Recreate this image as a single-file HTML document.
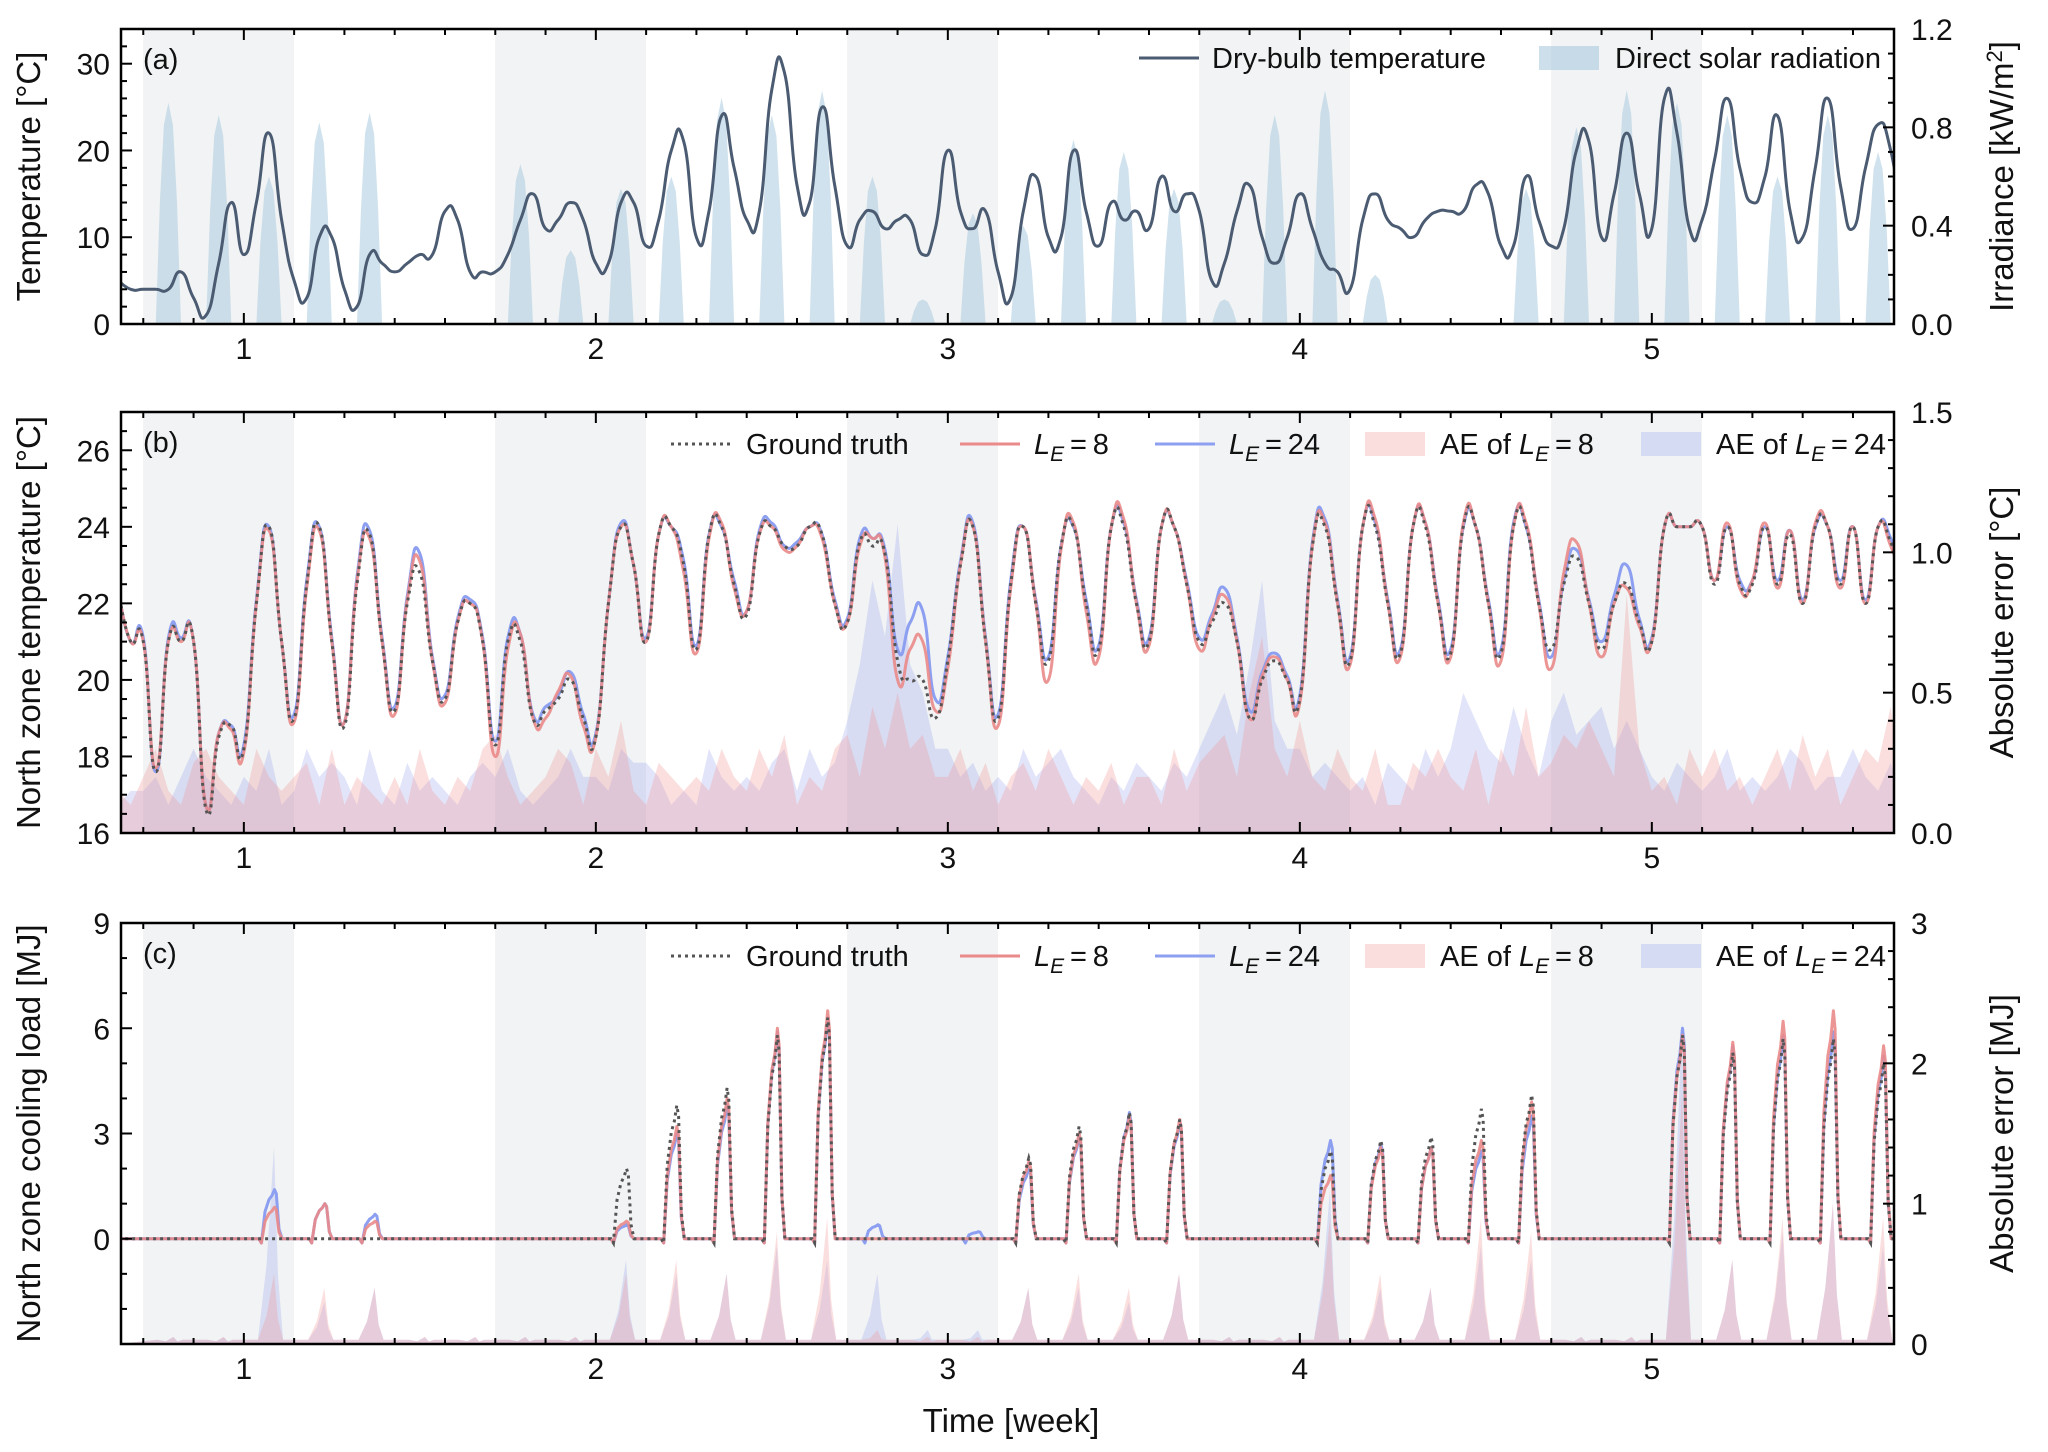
<!DOCTYPE html>
<html><head><meta charset="utf-8">
<style>
html,body{margin:0;padding:0;background:#fff;}
svg{display:block;font-family:"Liberation Sans",sans-serif;}
</style></head>
<body>
<svg id="chart" width="2048" height="1452" viewBox="0 0 2048 1452" xmlns="http://www.w3.org/2000/svg"></svg>
<script>
// ---------- DATA ----------
// 6-hourly samples starting at day 4.5 (weeks = day/7)
const sampleStartDay = 4.5;
const sampleStepDay = 0.25;
const weekendStarts = [0.714, 1.714, 2.714, 3.714, 4.714];
const xTickLabels = ["1","2","3","4","5"];
// Panel (a)
const dryBulbTemp = [5,4,
4,4,4,6, 3,1,7,14, 8,14,22,12, 5,3,10,10, 4,2,8,7, 6,7,8,8, 13,12,6,6, 6,8,12,15, 11,12,14,12, 7,7,14,14,
9,12,20,21, 10,13,24,18, 12,13,27,29, 16,14,25,16, 9,12,13,11, 12,12,8,11, 20,13,11,13, 6,3,13,17,
10,10,20,13, 9,14,12,13, 11,17,13,15, 13,5,7,13, 16,10,7,10, 15,11,7,6, 4,12,15,12, 11,10,12,13,
13,13,16,15, 9,9,17,12, 9,11,20,21, 10,15,22,15, 11,26,22,11, 12,19,26,18, 14,17,24,13, 10,18,26,16,
11,18,23,20, 11];
const radDays = [4,5,6,7,8,9,10,11,12,13,14,15,16,17,18,19,20,21,22,23,24,25,26,27,28,29,30,31,32,33,34,35,36,37,38,39];
const radPeak = [0,0.9,0.85,0.6,0.82,0.86,0,0,0.65,0.3,0.55,0.6,0.92,0.85,0.95,0.6,0.1,0.45,0.4,0.75,0.7,0.55,0.1,0.85,0.95,0.2,0,0,0.55,0.8,0.95,0.9,0.85,0.6,0.85,0.7];
// Panel (b)
const gtZoneTemp = [22.3,21,
21,17.6,21,21, 21,16.6,18.5,18.8, 18.2,22,24,21, 19,22.5,24,21, 18.8,22.5,23.8,21, 19.2,22,22.8,20.5, 19.5,21.5,22,21, 18.3,21,21,19, 19.2,19.5,20,19,
18.5,22,24,23, 21,23.8,24,23, 20.8,23.8,24,22.5, 21.7,23.8,24,23.5, 23.5,24,23.8,22, 21.5,23.6,23.5,23.3, 20.5,20,20,19, 20.5,23,24,21,
19,22.5,24,22, 20.5,23.5,24,22, 20.8,24,24,22, 21,24,24,22.5, 21,21.5,22,21, 19,20,20.5,20, 19.5,23.5,24,22, 20.5,24,24,22,
20.7,24,24,22, 20.7,24,24,22, 20.7,24,24,22, 20.8,22.5,23.2,22, 20.8,22,22.5,21.5, 21,24,24,24, 24,22.5,24,22.5, 22.5,24,22.5,23.8,
22,24,24,22.5, 24,22,24,23.6, 22.5];
const predTempL8 = [22.3,21,
21,17.7,21,21, 21,16.7,18.6,18.7, 18.1,22,23.9,21, 18.9,22.4,23.9,21, 18.9,22.6,23.7,21, 19.1,22.1,23.1,20.5, 19.4,21.5,22,21, 18,20.8,21.2,19, 19,19.7,20.1,18.8,
18.5,22,24,23, 21,23.8,24,22.8, 20.7,23.7,24.1,22.4, 21.8,23.8,24,23.4, 23.5,24,23.7,22, 21.5,23.5,23.7,23.2, 20,20.8,21,19.2, 20.3,23,24,21,
18.8,22.4,24,22, 20,23.4,24.1,21.8, 20.6,24,24.2,22, 20.9,24,24,22.5, 20.8,21.6,22.2,21, 19,20.1,20.6,20, 19.4,23.5,24.1,22, 20.4,24,24.2,22,
20.6,24,24.1,22, 20.6,24.1,24,22, 20.5,24,24.1,22, 20.3,22.8,23.6,22, 20.6,22,22.4,21.4, 21,24,24,24, 24,22.6,24.1,22.4, 22.6,24.1,22.4,23.9,
22,24.1,24,22.4, 24,22,24,23.5, 22.5];
const predTempL24 = [22.3,21,
21.1,17.6,21.1,21.1, 21,16.7,18.6,18.8, 18.3,22.1,24,21, 19.1,22.6,24,21.1, 18.9,22.7,23.9,21.1, 19.3,22.2,23.3,20.6, 19.6,21.6,22.1,21.1, 18.4,21.1,21.2,19.1, 19.3,19.6,20.2,19.1,
18.6,22,24.1,23, 21.1,23.8,24,23.1, 20.9,23.8,24,22.6, 21.8,23.9,24.1,23.5, 23.6,24,23.8,22.1, 21.6,23.7,23.7,23.4, 20.8,21.5,21.8,19.5, 20.6,23.1,24.1,21.1,
19.1,22.6,24,22.1, 20.6,23.5,24,22.1, 20.9,24,24.1,22.1, 21.1,24,24,22.6, 21.1,21.7,22.4,21.1, 19.2,20.2,20.7,20.1, 19.6,23.6,24.2,22.1, 20.6,24,24.1,22.1,
20.8,24,24.1,22.1, 20.8,24,24,22.1, 20.8,24.1,24,22.1, 20.6,22.6,23.4,22.1, 21,22.2,23,21.6, 21.1,24,24,24, 24,22.6,24,22.6, 22.6,24,22.6,23.9,
22.1,24,24,22.6, 24,22.1,24,23.7, 22.5];
const aeTempL8 = [.15,.1,
.2,.3,.15,.1, .25,.3,.2,.15, .1,.3,.2,.15, .2,.25,.1,.3, .1,.2,.15,.1, .2,.1,.3,.15, .1,.2,.15,.3, .35,.2,.1,.15, .2,.3,.25,.1,
.3,.2,.4,.15, .1,.25,.2,.15, .2,.15,.3,.2, .15,.3,.2,.35, .1,.2,.15,.3, .35,.2,.45,.3, .5,.3,.35,.2, .2,.3,.15,.25,
.1,.2,.25,.15, .3,.2,.1,.2, .15,.25,.1,.2, .2,.1,.3,.15, .25,.3,.35,.2, .5,.7,.3,.2, .4,.2,.15,.3, .2,.15,.3,.1,
.1,.25,.2,.3, .2,.15,.3,.1, .3,.2,.45,.2, .25,.35,.3,.4, .3,.2,.85,.3, .15,.2,.1,.3, .2,.3,.15,.2, .1,.2,.3,.15,
.35,.2,.3,.1, .2,.3,.25,.45, .1];
const aeTempL24 = [.1,.15,
.15,.2,.1,.2, .3,.2,.15,.1, .2,.15,.3,.1, .15,.3,.2,.25, .2,.1,.3,.15, .1,.25,.15,.2, .15,.1,.2,.25, .2,.3,.15,.1, .15,.2,.3,.2,
.2,.15,.3,.25, .25,.2,.1,.15, .1,.3,.2,.15, .2,.15,.25,.3, .15,.3,.2,.25, .4,.6,.9,.7, 1.1,.6,.5,.3, .3,.2,.25,.15,
.2,.15,.3,.2, .25,.3,.2,.15, .1,.2,.15,.25, .2,.15,.25,.2, .3,.4,.5,.35, .6,.9,.4,.3, .3,.2,.25,.2, .15,.2,.1,.25,
.2,.15,.3,.2, .3,.5,.4,.3, .25,.45,.3,.2, .4,.5,.35,.4, .45,.3,.4,.3, .2,.15,.25,.2, .15,.2,.3,.15, .2,.15,.2,.3,
.25,.15,.2,.2, .3,.2,.15,.25, .1];
// Panel (c): daily peak cooling load (days 5..39)
const loadDays = [5,6,7,8,9,10,11,12,13,14,15,16,17,18,19,20,21,22,23,24,25,26,27,28,29,30,31,32,33,34,35,36,37,38,39];
const gtLoadPeak   = [0,0,0,0,0,0,0,0,0,2.0,3.8,4.3,5.8,6.3,0,0,0,2.3,3.2,3.6,3.4,0,0,2.5,2.8,2.9,3.7,4.1,0,0,5.8,5.3,5.7,5.7,5.0];
const l8LoadPeak   = [0,0,0.9,1.0,0.5,0,0,0,0,0.5,3.2,4.0,6.0,6.5,0,0,0,2.2,3.0,3.5,3.4,0,0,1.8,2.6,2.6,2.8,3.9,0,0,5.8,5.6,6.2,6.5,5.5];
const l24LoadPeak  = [0,0,1.4,1.0,0.7,0,0,0,0,0.4,3.0,3.8,5.9,6.3,0.4,0,0.2,2.0,2.9,3.6,3.3,0,0,2.8,2.7,2.6,2.5,3.5,0,0,6.0,5.5,5.8,5.9,5.2];
const aeLoadL8     = [0.05,0.05,0.5,0.4,0.4,0.05,0.05,0.05,0.05,0.5,0.6,0.5,0.8,0.9,0.1,0.05,0.05,0.4,0.5,0.4,0.5,0.05,0.05,0.9,0.5,0.4,0.9,0.8,0.05,0.05,1.8,0.6,0.9,1.0,0.9];
const aeLoadL24    = [0.05,0.05,1.4,0.3,0.4,0.05,0.05,0.05,0.05,0.6,0.5,0.5,0.7,0.6,0.5,0.1,0.1,0.4,0.4,0.3,0.5,0.05,0.05,1.1,0.4,0.4,0.7,0.6,0.05,0.05,2.3,0.6,0.8,1.0,0.7];

// ---------- DRAW ----------
const svg = document.getElementById('chart');
const NS = 'http://www.w3.org/2000/svg';
const FS_TICK=30, FS_TITLE=33, FS_LEG=29;
function mk(tag, attrs, parent){const e=document.createElementNS(NS,tag);for(const k in attrs)e.setAttribute(k,attrs[k]);(parent||svg).appendChild(e);return e;}
const X0=121, X1=1894, W0=0.651, W1=5.688;
function xw(w){return X0+(w-W0)/(W1-W0)*(X1-X0);}
function xd(d){return xw(d/7);}
function yScale(top,bot,lo,hi){return v=>bot-(v-lo)/(hi-lo)*(bot-top);}
const panels=[{id:'a',top:29,bot:324},{id:'b',top:412,bot:833},{id:'c',top:923,bot:1344}];
const defs=mk('defs',{});
panels.forEach(p=>{const cp=mk('clipPath',{id:'clip-'+p.id},defs);mk('rect',{x:X0,y:p.top,width:X1-X0,height:p.bot-p.top},cp);});

function pts(vals,ys){return vals.map((v,i)=>[xd(sampleStartDay+i*sampleStepDay),ys(v)]);}
function smooth(P,t){t=t||0.5;let s='M'+P[0][0].toFixed(1)+','+P[0][1].toFixed(1);
  for(let i=0;i<P.length-1;i++){const p0=P[i-1]||P[i],p1=P[i],p2=P[i+1],p3=P[i+2]||P[i+1];
    const c1x=p1[0]+(p2[0]-p0[0])*t/3,c1y=p1[1]+(p2[1]-p0[1])*t/3,c2x=p2[0]-(p3[0]-p1[0])*t/3,c2y=p2[1]-(p3[1]-p1[1])*t/3;
    s+='C'+c1x.toFixed(1)+','+c1y.toFixed(1)+' '+c2x.toFixed(1)+','+c2y.toFixed(1)+' '+p2[0].toFixed(1)+','+p2[1].toFixed(1);}
  return s;}
function seriesPath(vals,ys){return smooth(pts(vals,ys),0.8);}
function areaPath(vals,ys){const P=pts(vals,ys);const n=P.length;let s='M'+P[0][0].toFixed(1)+','+ys(0).toFixed(1);P.forEach(p=>{s+='L'+p[0].toFixed(1)+','+p[1].toFixed(1);});s+='L'+P[n-1][0].toFixed(1)+','+ys(0).toFixed(1)+'Z';return s;}
function spikeArea(days,peaks,ys,base){let s='M'+xd(4.5)+','+ys(0);days.forEach((d,i)=>{const p=peaks[i];s+='L'+xd(d+0.28).toFixed(1)+','+ys(base).toFixed(1)+'L'+xd(d+0.45).toFixed(1)+','+ys(p*0.4).toFixed(1)+'L'+xd(d+0.6).toFixed(1)+','+ys(p).toFixed(1)+'L'+xd(d+0.68).toFixed(1)+','+ys(p*0.35).toFixed(1)+'L'+xd(d+0.78).toFixed(1)+','+ys(base).toFixed(1);});s+='L'+xd(40)+','+ys(0)+'Z';return s;}
function loadLine(days,peaks,ys){let s='M'+xd(4.5).toFixed(1)+','+ys(0).toFixed(1);days.forEach((d,i)=>{const p=peaks[i];if(p>0){s+='L'+xd(d+0.3).toFixed(1)+','+ys(0).toFixed(1)+'L'+xd(d+0.35).toFixed(1)+','+ys(-0.12).toFixed(1)+'L'+xd(d+0.42).toFixed(1)+','+ys(p*0.55).toFixed(1)+'L'+xd(d+0.5).toFixed(1)+','+ys(p*0.8).toFixed(1)+'L'+xd(d+0.56).toFixed(1)+','+ys(p*0.88).toFixed(1)+'L'+xd(d+0.61).toFixed(1)+','+ys(p).toFixed(1)+'L'+xd(d+0.645).toFixed(1)+','+ys(p*0.92).toFixed(1)+'L'+xd(d+0.7).toFixed(1)+','+ys(p*0.2).toFixed(1)+'L'+xd(d+0.76).toFixed(1)+','+ys(0).toFixed(1);}});s+='L'+xd(40).toFixed(1)+','+ys(0).toFixed(1);return s;}

function drawBands(p,g){weekendStarts.forEach(w=>{const r=mk('rect',{x:xw(w),y:p.top,width:xw(w+3/7)-xw(w),height:p.bot-p.top,fill:'#f1f3f4'},g);

});}

function txt(x,y,s,opts,parent){const t=mk('text',Object.assign({x:x,y:y,'font-size':FS_TICK,fill:'#111'},opts||{}),parent);t.textContent=s;return t;}

function axes(p,left,right){
  const g=mk('g',{});
  
  
  mk('rect',{x:X0,y:p.top,width:X1-X0,height:p.bot-p.top,fill:'none',stroke:'#000','stroke-width':2.5},g);
  for(let d=5;d<=39;d++){const x=xd(d);const major=d%7===0;const L=major?11:6;
    mk('line',{x1:x,x2:x,y1:p.bot,y2:p.bot-L,stroke:'#000','stroke-width':2},g);
    mk('line',{x1:x,x2:x,y1:p.top,y2:p.top+L,stroke:'#000','stroke-width':2},g);}
  xTickLabels.forEach((s,i)=>{const t=txt(xw(i+1),p.bot+35,s,{'text-anchor':'middle'},g);
    
    });
  const yl=yScale(p.top,p.bot,left.lo,left.hi);
  for(let v=left.lo;v<=left.hi+1e-9;v+=left.minor){const y=yl(v);const major=Math.abs(Math.round(v/left.major)*left.major-v)<1e-6;
    mk('line',{x1:X0,x2:X0+(major?11:6),y1:y,y2:y,stroke:'#000','stroke-width':2},g);}
  left.labels.forEach(v=>{const t=txt(X0-11,yl(v)+11,String(v),{'text-anchor':'end'},g);
    
    });
  const yr=yScale(p.top,p.bot,right.lo,right.hi);
  for(let v=right.lo;v<=right.hi+1e-9;v+=right.minor){const y=yr(v);const major=Math.abs(Math.round(v/right.major)*right.major-v)<1e-6;
    mk('line',{x1:X1,x2:X1-(major?11:6),y1:y,y2:y,stroke:'#000','stroke-width':2},g);}
  right.labels.forEach(v=>{const t=txt(X1+17,yr(v)+11,right.fmt(v),{'text-anchor':'start'},g);
    
    });
  const lt=txt(0,0,left.title,{'text-anchor':'middle','font-size':FS_TITLE,transform:'translate(40,'+((p.top+p.bot)/2)+') rotate(-90)'},g);
  
  
  const rt=txt(0,0,'',{'text-anchor':'middle','font-size':FS_TITLE,transform:'translate(2013,'+((p.top+p.bot)/2)+') rotate(-90)'},g);
  rt.innerHTML=right.title;
  
  
  const pl=txt(143,p.top+40,'('+p.id+')',{'font-size':FS_LEG},g);
  
  
  return g;
}

function legendLine(x,y,opts,parent){return mk('line',Object.assign({x1:x,x2:x+60,y1:y,y2:y},opts),parent);}
function legendRect(x,y,fill,parent){return mk('rect',{x:x,y:y-12,width:60,height:24,fill:fill},parent);}
function leText(x,y,prefix,num,parent){const t=mk('text',{x:x,y:y+10,'font-size':FS_LEG,fill:'#111'},parent);
  t.innerHTML=prefix+'<tspan font-style="italic">L</tspan><tspan font-style="italic" font-size="21" dy="7">E</tspan><tspan dy="-7">\u2009=\u2009'+num+'</tspan>';return t;}

const RED='#ea8a8a', BLUE='#8d9ff0', AE8='rgba(242,150,150,0.3)', AE24='rgba(140,150,235,0.25)';

// ---- Panel a ----
(function(){
  const p=panels[0];
  const g=mk('g',{'clip-path':'url(#clip-a)'});
  
  
  drawBands(p,g);
  const yT=yScale(p.top,p.bot,0,34), yR=yScale(p.top,p.bot,0,1.2);
  let s='M'+xd(4.5)+','+yR(0);
  radDays.forEach((d,i)=>{const r=radPeak[i];s+='L'+xd(d+0.25).toFixed(1)+','+yR(0)+'L'+xd(d+0.33).toFixed(1)+','+yR(r*0.55).toFixed(1)+'L'+xd(d+0.41).toFixed(1)+','+yR(r*0.9).toFixed(1)+'L'+xd(d+0.5).toFixed(1)+','+yR(r).toFixed(1)+'L'+xd(d+0.59).toFixed(1)+','+yR(r*0.9).toFixed(1)+'L'+xd(d+0.67).toFixed(1)+','+yR(r*0.55).toFixed(1)+'L'+xd(d+0.75).toFixed(1)+','+yR(0);});
  s+='L'+xd(40)+','+yR(0)+'Z';
  const rad=mk('path',{d:s,fill:'rgba(170,202,222,0.55)'},g);
  
  
  const tl=mk('path',{d:seriesPath(dryBulbTemp,yT),fill:'none',stroke:'#4b5b72','stroke-width':3,'stroke-linejoin':'round'},g);
  
  
  axes(p,{lo:0,hi:34,major:10,minor:2,labels:[0,10,20,30],title:'Temperature [°C]'},
         {lo:0,hi:1.2,major:0.4,minor:0.1,labels:[0,0.4,0.8,1.2],fmt:v=>v.toFixed(1),title:'Irradiance [kW/m<tspan font-size="22" dy="-11">2</tspan><tspan dy="11">]</tspan>'});
  const lg=mk('g',{});
  
  
  const l1=legendLine(1139,58,{stroke:'#4b5b72','stroke-width':3},lg);
  
  
  const t1=txt(1212,68,'Dry-bulb temperature',{'font-size':FS_LEG},lg);
  
  
  const r1=legendRect(1539,58,'rgba(170,202,222,0.6)',lg);
  
  
  const t2=txt(1615,68,'Direct solar radiation',{'font-size':FS_LEG},lg);
  
  
})();

function legendBC(y){
  const lg=mk('g',{});
  
  
  const a=legendLine(671,y,{stroke:'#555','stroke-width':3,'stroke-dasharray':'3 4'},lg);
  
  
  const at=txt(746,y+10,'Ground truth',{'font-size':FS_LEG},lg);
  
  
  const b=legendLine(960,y,{stroke:RED,'stroke-width':3},lg);
  
  
  const bt=leText(1034,y,'',8,lg);
  
  
  const c=legendLine(1155,y,{stroke:BLUE,'stroke-width':3},lg);
  
  
  const ct=leText(1229,y,'',24,lg);
  
  
  const d=legendRect(1365,y,'rgba(245,190,190,0.5)',lg);
  
  
  const dt=leText(1440,y,'AE of ',8,lg);
  
  
  const e=legendRect(1641,y,'rgba(190,198,240,0.55)',lg);
  
  
  const et=leText(1716,y,'AE of ',24,lg);
  
  
}

// ---- Panel b ----
(function(){
  const p=panels[1];
  const g=mk('g',{'clip-path':'url(#clip-b)'});
  
  
  drawBands(p,g);
  const yL=yScale(p.top,p.bot,16,27), yR=yScale(p.top,p.bot,0,1.5);
  const a1=mk('path',{d:areaPath(aeTempL24,yR),fill:AE24},g);
  
  
  const a2=mk('path',{d:areaPath(aeTempL8,yR),fill:AE8},g);
  
  
  const l24=mk('path',{d:seriesPath(predTempL24,yL),fill:'none',stroke:BLUE,'stroke-width':3,'stroke-linejoin':'round'},g);
  
  
  const l8=mk('path',{d:seriesPath(predTempL8,yL),fill:'none',stroke:RED,'stroke-width':3,'stroke-linejoin':'round','stroke-opacity':0.9},g);
  
  
  const gt=mk('path',{d:seriesPath(gtZoneTemp,yL),fill:'none',stroke:'#555','stroke-width':3,'stroke-dasharray':'3 4'},g);
  
  
  axes(p,{lo:16,hi:27,major:2,minor:0.5,labels:[16,18,20,22,24,26],title:'North zone temperature [°C]'},
         {lo:0,hi:1.5,major:0.5,minor:0.1,labels:[0,0.5,1.0,1.5],fmt:v=>v.toFixed(1),title:'Absolute error [°C]'});
  legendBC(444);
})();

// ---- Panel c ----
(function(){
  const p=panels[2];
  const g=mk('g',{'clip-path':'url(#clip-c)'});
  
  
  drawBands(p,g);
  const yL=yScale(p.top,p.bot,-3,9), yR=yScale(p.top,p.bot,0,3);
  const a1=mk('path',{d:spikeArea(loadDays,aeLoadL24,yR,0.03),fill:AE24},g);
  
  
  const a2=mk('path',{d:spikeArea(loadDays,aeLoadL8,yR,0.03),fill:AE8},g);
  
  
  const l24=mk('path',{d:loadLine(loadDays,l24LoadPeak,yL),fill:'none',stroke:BLUE,'stroke-width':3,'stroke-linejoin':'round'},g);
  
  
  const l8=mk('path',{d:loadLine(loadDays,l8LoadPeak,yL),fill:'none',stroke:RED,'stroke-width':3,'stroke-linejoin':'round','stroke-opacity':0.9},g);
  
  
  const gt=mk('path',{d:loadLine(loadDays,gtLoadPeak,yL),fill:'none',stroke:'#555','stroke-width':3,'stroke-dasharray':'3 4'},g);
  
  
  axes(p,{lo:-3,hi:9,major:3,minor:1,labels:[0,3,6,9],title:'North zone cooling load [MJ]'},
         {lo:0,hi:3,major:1,minor:0.2,labels:[0,1,2,3],fmt:v=>String(v),title:'Absolute error [MJ]'});
  legendBC(956);
})();

const xl=txt(1011,1432,'Time [week]',{'text-anchor':'middle','font-size':FS_TITLE});


</script>
</body></html>
